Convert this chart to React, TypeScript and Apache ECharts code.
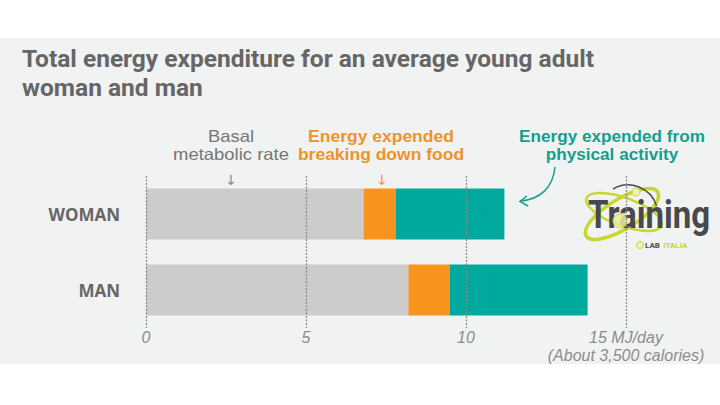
import React, { useEffect, useRef } from "react";
import * as echarts from "echarts";

const categories = ["WOMAN", "MAN"];
const basal = [6.8, 8.2];
const digestion = [1.0, 1.3];
const activity = [3.4, 4.3];
const xTicks = [0, 5, 10, 15];
const titleText = "Total energy expenditure for an average young adult\nwoman and man";
const maxLabel = "15 MJ/day\n(About 3,500 calories)";

const GRAY = "#cccccc";
const ORANGE = "#f7941d";
const TEAL = "#00a99d";
const LIME = "#c6d72e";
const ANN_FONT = "Liberation Sans";

export default function App() {
  const ref = useRef<HTMLDivElement>(null);
  useEffect(() => {
    if (!ref.current) return;
    const chart = echarts.init(ref.current, null, { renderer: "svg" });
    const barBase = {
      type: "bar",
      stack: "total",
      barWidth: 51,
      silent: true,
      emphasis: { disabled: true },
    };
    const annotation = (text: string, x: number, fill: string, weight: string | number, sx: number) => ({
      type: "text",
      x,
      y: 145.5,
      scaleX: sx,
      style: {
        text,
        textAlign: "center",
        textVerticalAlign: "middle",
        fontFamily: ANN_FONT,
        fontWeight: weight,
        fontSize: 16.5,
        lineHeight: 18.5,
        fill,
      },
    });
    chart.setOption({
      animation: false,
      backgroundColor: "#ffffff",
      title: {
        text: titleText,
        left: 22,
        top: 44,
        padding: 0,
        textStyle: {
          fontFamily: "Roboto",
          fontWeight: "bold",
          fontSize: 24.5,
          lineHeight: 29,
          color: "#666666",
        },
      },
      grid: { left: 146, right: 94, top: 176, bottom: 77 },
      xAxis: {
        type: "value",
        min: xTicks[0],
        max: xTicks[xTicks.length - 1],
        interval: xTicks[1] - xTicks[0],
        axisLine: { show: false },
        axisTick: { show: false },
        splitLine: { show: false },
        axisLabel: {
          margin: 0,
          fontFamily: "Liberation Sans",
          fontStyle: "italic",
          fontSize: 16,
          lineHeight: 18,
          color: "#8c8c8c",
          formatter: (v: number) => (v === xTicks[xTicks.length - 1] ? maxLabel : String(v)),
        },
      },
      yAxis: {
        type: "category",
        inverse: true,
        data: categories,
        axisLine: { show: false },
        axisTick: { show: false },
        axisLabel: {
          margin: 26,
          fontFamily: "Open Sans",
          fontWeight: "bold",
          fontSize: 17,
          color: "#666666",
        },
      },
      series: [
        { ...barBase, name: "Basal metabolic rate", data: basal, itemStyle: { color: GRAY } },
        { ...barBase, name: "Breaking down food", data: digestion, itemStyle: { color: ORANGE } },
        {
          ...barBase,
          name: "Physical activity",
          data: activity,
          itemStyle: { color: TEAL },
          markLine: {
            silent: true,
            symbol: "none",
            z: 5,
            label: { show: false },
            lineStyle: { color: "#8a8a8a", width: 1.3, type: [2, 1.5] },
            data: xTicks.map((t) => ({ xAxis: t })),
          },
        },
      ],
      graphic: [
        {
          type: "rect",
          z: -10,
          silent: true,
          shape: { x: 0, y: 38, width: 720, height: 326 },
          style: { fill: "#f1f2f2" },
        },
        annotation("Basal\nmetabolic rate", 231, "#767676", "normal", 1.12),
        annotation("Energy expended\nbreaking down food", 381, "#f0922a", "bold", 1.06),
        annotation("Energy expended from\nphysical activity", 612, "#159e8f", "bold", 1.04),
        {
          type: "text",
          x: 231,
          y: 180,
          style: {
            text: "↓",
            textAlign: "center",
            textVerticalAlign: "middle",
            fontFamily: "DejaVu Sans",
            fontSize: 14,
            fill: "#8a8a8a",
          },
        },
        {
          type: "text",
          x: 382,
          y: 180,
          style: {
            text: "↓",
            textAlign: "center",
            textVerticalAlign: "middle",
            fontFamily: "DejaVu Sans",
            fontSize: 14,
            fill: ORANGE,
          },
        },
        {
          type: "bezierCurve",
          shape: { x1: 555, y1: 167, x2: 521, y2: 201, cpx1: 553, cpy1: 188, cpx2: 540, cpy2: 199 },
          style: { stroke: "#159e8f", lineWidth: 1.5, fill: "none" },
        },
        {
          type: "polyline",
          shape: { points: [[527, 196], [520, 201.5], [528, 206]] },
          style: { stroke: "#159e8f", lineWidth: 1.5, fill: "none" },
        },
        // logo
        {
          type: "ellipse",
          x: 622,
          y: 214,
          rotation: 0.55,
          shape: { cx: 0, cy: 0, rx: 42, ry: 15 },
          style: { stroke: LIME, lineWidth: 3.5, fill: "none" },
        },
        {
          type: "ellipse",
          x: 624,
          y: 212,
          rotation: -0.35,
          shape: { cx: 0, cy: 0, rx: 40, ry: 14 },
          style: { stroke: LIME, lineWidth: 2.5, fill: "none" },
        },
        {
          type: "arc",
          x: 628,
          y: 215,
          rotation: 0.9,
          shape: { cx: 0, cy: 0, r: 30, startAngle: -1.2, endAngle: 0.6 },
          style: { stroke: "#4a4a4f", lineWidth: 1.5, fill: "none" },
        },
        {
          type: "text",
          x: 588,
          y: 215,
          scaleX: 0.87,
          style: {
            text: "Training",
            textAlign: "left",
            textVerticalAlign: "middle",
            fontFamily: "Roboto",
            fontWeight: "bold",
            fontSize: 38,
            fill: "#48484d",
          },
        },
        {
          type: "circle",
          shape: { cx: 620, cy: 221, r: 7 },
          style: { fill: "#e6ec9e", stroke: LIME, lineWidth: 1, opacity: 0.85 },
        },
        {
          type: "circle",
          shape: { cx: 636, cy: 192, r: 4 },
          style: { fill: "#eef2b8", stroke: LIME, lineWidth: 1 },
        },
        {
          type: "circle",
          shape: { cx: 640, cy: 245, r: 3.5 },
          style: { fill: "#eef2b8", stroke: LIME, lineWidth: 1 },
        },
        {
          type: "text",
          x: 645,
          y: 245,
          style: {
            text: "{a|LAB} {b|ITALIA}",
            textAlign: "left",
            textVerticalAlign: "middle",
            rich: {
              a: { fontFamily: "Roboto", fontWeight: "bold", fontSize: 8, fill: "#48484d" },
              b: { fontFamily: "Roboto", fontWeight: "bold", fontSize: 8, fill: LIME },
            },
          },
        },
      ],
    });
    return () => chart.dispose();
  }, []);
  return (
    <div
      ref={ref}
      style={{ position: "absolute", left: 0, top: 0, width: 720, height: 405 }}
    />
  );
}
